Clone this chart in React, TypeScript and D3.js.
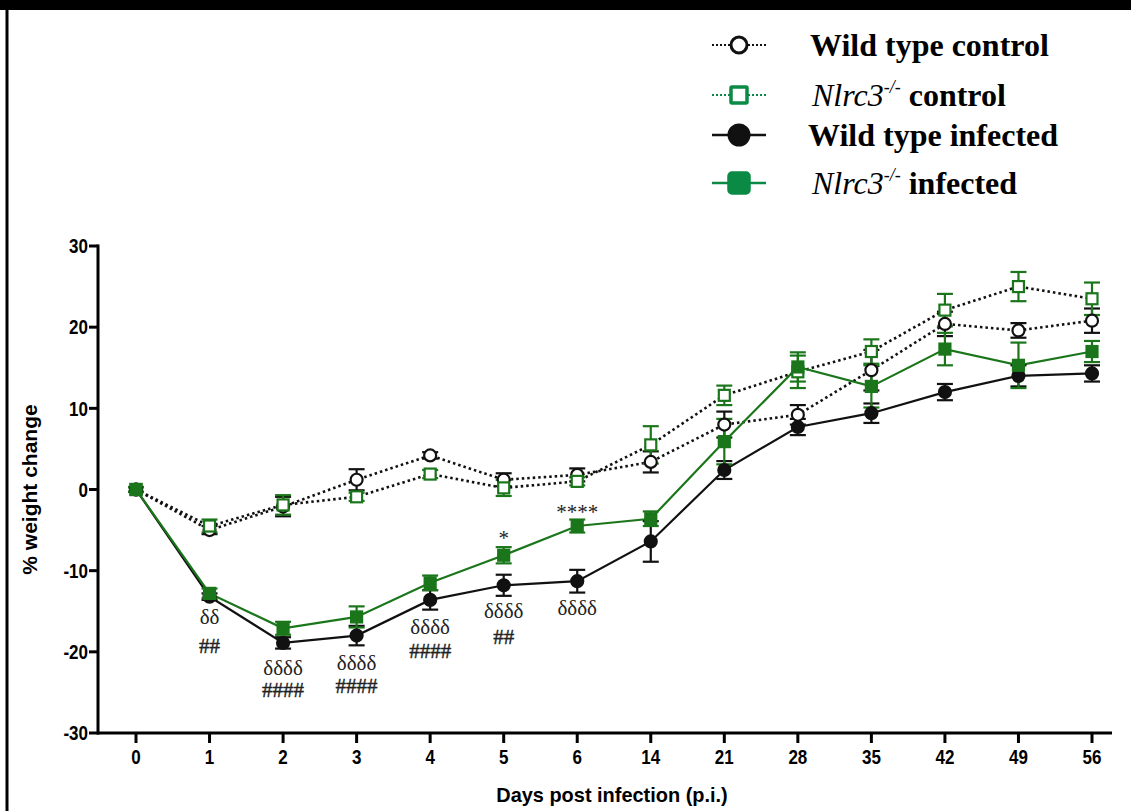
import React from 'react';
import * as d3 from 'd3';

// days post infection (categorical axis)
const days = ['0', '1', '2', '3', '4', '5', '6', '14', '21', '28', '35', '42', '49', '56'];

const wtControl = [0, -5.0, -2.1, 1.2, 4.2, 1.2, 1.8, 3.4, 8.0, 9.2, 14.7, 20.4, 19.6, 20.8];
const wtControlErr = [0.3, 0.5, 1.2, 1.3, 0.4, 0.8, 0.8, 1.3, 1.6, 1.2, 2.5, 1.5, 0.9, 1.5];

const koControl = [0, -4.5, -1.9, -0.9, 1.9, 0.2, 1.0, 5.5, 11.6, 14.5, 17.0, 22.1, 25.0, 23.5];
const koControlErr = [0.3, 0.8, 1.2, 0.5, 0.5, 1.0, 0.5, 2.3, 1.2, 2.0, 1.5, 2.0, 1.8, 2.0];

const wtInfected = [0, -13.2, -18.9, -18.0, -13.6, -11.8, -11.3, -6.4, 2.4, 7.7, 9.4, 12.0, 14.0, 14.3];
const wtInfectedErr = [0.3, 0.4, 0.7, 1.2, 1.2, 1.3, 1.4, 2.5, 1.1, 1.0, 1.2, 1.0, 1.3, 1.0];

const koInfected = [0, -12.8, -17.1, -15.7, -11.5, -8.1, -4.5, -3.6, 5.9, 15.1, 12.7, 17.3, 15.3, 17.0];
const koInfectedErr = [0.3, 0.6, 0.8, 1.3, 0.9, 1.0, 0.8, 0.9, 2.8, 1.8, 2.6, 2.0, 2.8, 1.3];

const yTicks = [-30, -20, -10, 0, 10, 20, 30];

// significance marks: day, text, value where the mark sits
const annotations: [string, string, number][] = [
  ['1', 'δδ', -15.7], ['1', '##', -19.2],
  ['2', 'δδδδ', -21.9], ['2', '####', -24.7],
  ['3', 'δδδδ', -21.3], ['3', '####', -24.2],
  ['4', 'δδδδ', -16.9], ['4', '####', -19.9],
  ['5', '*', -5.3], ['5', 'δδδδ', -14.9], ['5', '##', -18.1],
  ['6', '****', -2.1], ['6', 'δδδδ', -14.6],
];

const GREEN = '#1b761b';
const LEGEND_GREEN = '#0a8a45';
const SANS = '"Liberation Sans", Arial, sans-serif';
const SERIF = '"Liberation Serif", "Times New Roman", serif';

const series = [
  { key: 'wtc', values: wtControl, err: wtControlErr, line: '#111', dash: '2.5,3', marker: 'circle', fill: 'white', stroke: '#111' },
  { key: 'koc', values: koControl, err: koControlErr, line: '#111', dash: '2.5,3', marker: 'square', fill: 'white', stroke: GREEN },
  { key: 'wti', values: wtInfected, err: wtInfectedErr, line: '#111', dash: null, marker: 'circle', fill: '#111', stroke: '#111' },
  { key: 'koi', values: koInfected, err: koInfectedErr, line: GREEN, dash: null, marker: 'square', fill: GREEN, stroke: GREEN },
];

function Marker({ type, cx, cy, fill, stroke, size }: any) {
  if (type === 'circle') {
    return <circle cx={cx} cy={cy} r={size / 2} fill={fill} stroke={stroke} strokeWidth={2.2} />;
  }
  return <rect x={cx - size / 2} y={cy - size / 2} width={size} height={size} fill={fill} stroke={stroke} strokeWidth={2.2} />;
}

export default function App() {
  const x = d3.scalePoint<string>().domain(days).range([136, 1092]);
  const y = d3.scaleLinear().domain([-30, 30]).range([733, 246]);
  const line = d3.line<number>().x((_, i) => x(days[i]) as number).y((d) => y(d));

  const legendRows = [
    { y: 45, line: '#111', dash: '2,2', marker: 'circle', fill: 'white', stroke: '#111', italic: '', rest: 'Wild type control', tx: 810 },
    { y: 95, line: LEGEND_GREEN, dash: '2,2', marker: 'square', fill: 'white', stroke: LEGEND_GREEN, italic: 'Nlrc3', rest: ' control', tx: 812 },
    { y: 135, line: '#111', dash: null, marker: 'circle', fill: '#111', stroke: '#111', italic: '', rest: 'Wild type infected', tx: 808 },
    { y: 183, line: LEGEND_GREEN, dash: null, marker: 'square', fill: LEGEND_GREEN, stroke: LEGEND_GREEN, italic: 'Nlrc3', rest: ' infected', tx: 812 },
  ];

  return (
    <svg width={1131} height={811} style={{ position: 'absolute', left: 0, top: 0, background: 'white' }}>
      {/* frame */}
      <rect x={0} y={0} width={1131} height={10} fill="#000" />
      <line x1={7} y1={10} x2={7} y2={811} stroke="#000" strokeWidth={3} />

      {/* legend */}
      {legendRows.map((r, i) => (
        <g key={i}>
          <line x1={712} x2={766} y1={r.y} y2={r.y} stroke={r.line} strokeWidth={r.dash ? 1.8 : 2.5} strokeDasharray={r.dash || undefined} />
          {r.marker === 'circle' ? (
            <circle cx={739} cy={r.y} r={r.fill === 'white' ? 8 : 10} fill={r.fill} stroke={r.stroke} strokeWidth={3} />
          ) : (
            <rect x={r.fill === 'white' ? 731 : 729} y={r.y - (r.fill === 'white' ? 8 : 10)} width={r.fill === 'white' ? 16 : 20} height={r.fill === 'white' ? 16 : 20} rx={r.fill === 'white' ? 1 : 3} fill={r.fill} stroke={r.stroke} strokeWidth={3.5} />
          )}
          <text x={r.tx} y={r.y + 11} fontFamily={SERIF} fontSize={32} fill="#000">
            {r.italic ? (
              <>
                <tspan fontStyle="italic">{r.italic}</tspan>
                <tspan fontStyle="italic" fontSize={18} dy={-13}>-/-</tspan>
                <tspan fontWeight="bold" dy={13}>{r.rest}</tspan>
              </>
            ) : (
              <tspan fontWeight="bold">{r.rest}</tspan>
            )}
          </text>
        </g>
      ))}

      {/* y axis */}
      <line x1={98} x2={98} y1={y(30) - 1.5} y2={y(-30) + 1.5} stroke="#000" strokeWidth={3} />
      {yTicks.map((t) => (
        <g key={t}>
          <line x1={89} x2={98} y1={y(t)} y2={y(t)} stroke="#000" strokeWidth={3} />
          <text transform={`translate(88, ${y(t)}) scale(0.85, 1)`} dy="0.36em" textAnchor="end" fontFamily={SANS} fontWeight="bold" fontSize={20}>{t}</text>
        </g>
      ))}
      <text transform={`translate(37, ${y(0)}) rotate(-90)`} textAnchor="middle" fontFamily={SANS} fontWeight="bold" fontSize={21}>% weight change</text>

      {/* x axis */}
      <line x1={97} x2={1112} y1={y(-30)} y2={y(-30)} stroke="#000" strokeWidth={3} />
      {days.map((d) => (
        <g key={d}>
          <line x1={x(d)} x2={x(d)} y1={y(-30)} y2={y(-30) + 10} stroke="#000" strokeWidth={3} />
          <text transform={`translate(${x(d)}, 764) scale(0.85, 1)`} textAnchor="middle" fontFamily={SANS} fontWeight="bold" fontSize={20}>{d}</text>
        </g>
      ))}
      <text transform="translate(612, 802) scale(0.95, 1)" textAnchor="middle" fontFamily={SANS} fontWeight="bold" fontSize={21}>Days post infection (p.i.)</text>

      {/* lines */}
      {series.map((s) => (
        <path key={s.key} d={line(s.values) || ''} fill="none" stroke={s.line} strokeWidth={s.dash ? 2.6 : 2.2} strokeDasharray={s.dash || undefined} />
      ))}

      {/* error bars */}
      {series.map((s) => (
        <g key={s.key + '-err'} stroke={s.stroke} strokeWidth={2.2}>
          {s.values.map((v, i) => {
            const cx = x(days[i]) as number;
            const hi = y(v + s.err[i]);
            const lo = y(v - s.err[i]);
            return (
              <g key={i}>
                <line x1={cx} x2={cx} y1={hi} y2={lo} />
                <line x1={cx - 8} x2={cx + 8} y1={hi} y2={hi} />
                <line x1={cx - 8} x2={cx + 8} y1={lo} y2={lo} />
              </g>
            );
          })}
        </g>
      ))}

      {/* markers */}
      {series.map((s) => (
        <g key={s.key + '-m'}>
          {s.values.map((v, i) => (
            <Marker key={i} type={s.marker} cx={x(days[i]) as number} cy={y(v)} fill={s.fill} stroke={s.stroke} size={s.marker === 'circle' ? 12 : 11} />
          ))}
        </g>
      ))}

      {/* significance */}
      {annotations.map(([d, t, v], i) => (
        <text key={i} x={x(d)} y={y(v)} dy={t.includes('*') ? '0.6em' : '0.35em'} textAnchor="middle" fontFamily={SERIF} fontSize={t.includes('#') ? 21 : 21} fill="#222" stroke={t.includes('#') ? '#222' : 'none'} strokeWidth={0.4}>{t}</text>
      ))}
    </svg>
  );
}
